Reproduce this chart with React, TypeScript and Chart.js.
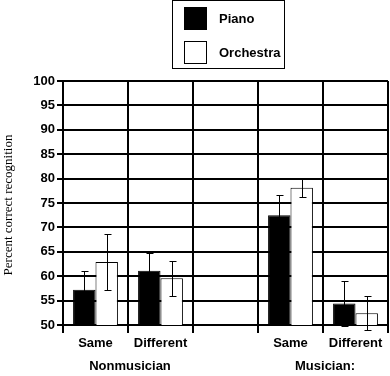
import React, { useEffect, useRef } from "react";
import { Chart, registerables } from "chart.js";

Chart.register(...registerables);

const categories = ["Same", "Different", "", "Same", "Different"];
const groupLabels = ["Nonmusician", "Musician:"];
const groupSpans = [[0, 1], [3, 4]];
const seriesNames = ["Piano", "Orchestra"];
const pianoValues = [57.2, 61.1, null, 72.5, 54.4];
const pianoErrors = [3.8, 3.7, null, 4.1, 4.7];
const orchestraValues = [62.9, 59.6, null, 78.1, 52.4];
const orchestraErrors = [5.8, 3.6, null, 1.8, 3.5];
const yTicks = [50, 55, 60, 65, 70, 75, 80, 85, 90, 95, 100];
const yTitle = "Percent correct recognition";

const SANS = "'Liberation Sans', Arial, sans-serif";
const SERIF = "'Liberation Serif', 'Times New Roman', serif";

const errorBarPlugin = {
  id: "errorBars",
  afterDatasetsDraw(chart: any) {
    const ctx = chart.ctx;
    const yScale = chart.scales.y;
    const errs = [pianoErrors, orchestraErrors];
    ctx.save();
    ctx.strokeStyle = "#000";
    ctx.lineWidth = 1;
    chart.data.datasets.forEach((ds: any, di: number) => {
      const meta = chart.getDatasetMeta(di);
      meta.data.forEach((bar: any, i: number) => {
        const v = ds.data[i];
        const e = errs[di][i];
        if (v == null || e == null) return;
        const x = Math.round(bar.x) + 0.5;
        const yTop = Math.round(yScale.getPixelForValue(v + e)) + 0.5;
        const yBot = Math.round(yScale.getPixelForValue(v - e)) + 0.5;
        ctx.beginPath();
        ctx.moveTo(x, yTop);
        ctx.lineTo(x, yBot);
        ctx.moveTo(x - 3, yTop);
        ctx.lineTo(x + 4, yTop);
        ctx.moveTo(x - 3, yBot);
        ctx.lineTo(x + 4, yBot);
        ctx.stroke();
      });
    });
    ctx.restore();
  },
};

const decorPlugin = {
  id: "decor",
  afterDraw(chart: any) {
    const ctx = chart.ctx;
    const xScale = chart.scales.x;
    ctx.save();
    // group labels
    ctx.fillStyle = "#000";
    ctx.font = `bold 13px ${SANS}`;
    ctx.textAlign = "center";
    ctx.textBaseline = "middle";
    groupSpans.forEach((span, gi) => {
      const cx = (xScale.getPixelForValue(span[0]) + xScale.getPixelForValue(span[1])) / 2;
      ctx.fillText(groupLabels[gi], cx + 2, 366);
    });
    // y title
    ctx.save();
    ctx.translate(9, 205);
    ctx.rotate(-Math.PI / 2);
    ctx.font = `13px ${SERIF}`;
    ctx.textAlign = "center";
    ctx.textBaseline = "middle";
    ctx.fillText(yTitle, 0, 0);
    ctx.restore();
    // legend
    ctx.strokeStyle = "#000";
    ctx.lineWidth = 1;
    ctx.strokeRect(172.5, 0.5, 112, 68);
    const ds = chart.data.datasets;
    const rows = [7, 41];
    rows.forEach((ry, i) => {
      ctx.fillStyle = ds[i].backgroundColor;
      ctx.fillRect(184, ry, 23, 23);
      ctx.strokeRect(184.5, ry + 0.5, 22, 22);
      ctx.fillStyle = "#000";
      ctx.font = `bold 13px ${SANS}`;
      ctx.textAlign = "left";
      ctx.textBaseline = "middle";
      ctx.fillText(seriesNames[i], 219, ry + 12);
    });
    ctx.restore();
  },
};

export default function App() {
  const ref = useRef<HTMLCanvasElement | null>(null);
  useEffect(() => {
    document.body.style.margin = "0";
    const canvas = ref.current!;
    const chart = new Chart(canvas, {
      type: "bar",
      data: {
        labels: categories,
        datasets: [
          {
            label: seriesNames[0],
            data: pianoValues as any,
            backgroundColor: "#000",
            borderColor: "#000",
            borderWidth: 1,
            categoryPercentage: 0.69,
            barPercentage: 1,
          },
          {
            label: seriesNames[1],
            data: orchestraValues as any,
            backgroundColor: "#fff",
            borderColor: "#000",
            borderWidth: 1,
            categoryPercentage: 0.69,
            barPercentage: 1,
          },
        ],
      },
      options: {
        responsive: false,
        animation: false,
        devicePixelRatio: 1,
        layout: { padding: { top: 81, right: 2, left: 0, bottom: 0 } },
        plugins: { legend: { display: false }, tooltip: { enabled: false } },
        scales: {
          x: {
            offset: true,
            grid: { color: "#000", lineWidth: 2, tickLength: 8, offset: true, drawOnChartArea: true },
            border: { display: true, color: "#000", width: 2 },
            ticks: {
              color: "#000",
              font: { family: SANS, size: 13, weight: "bold" },
              padding: 3,
              maxRotation: 0,
              autoSkip: false,
            },
            afterFit(scale: any) {
              scale.height = 51;
            },
          },
          y: {
            min: 50,
            max: 100,
            afterBuildTicks(scale: any) {
              scale.ticks = yTicks.map((v) => ({ value: v }));
            },
            grid: { color: "#000", lineWidth: 2, tickLength: 6 },
            border: { display: true, color: "#000", width: 2 },
            ticks: {
              color: "#000",
              font: { family: SANS, size: 13, weight: "bold" },
              padding: 2,
            },
            afterFit(scale: any) {
              scale.width = 63;
            },
          },
        },
      },
      plugins: [errorBarPlugin, decorPlugin],
    });
    return () => chart.destroy();
  }, []);
  return (
    <div style={{ position: "absolute", left: 0, top: 0, width: 390, height: 376 }}>
      <canvas ref={ref} width={390} height={376} style={{ width: 390, height: 376, display: "block" }} />
    </div>
  );
}
